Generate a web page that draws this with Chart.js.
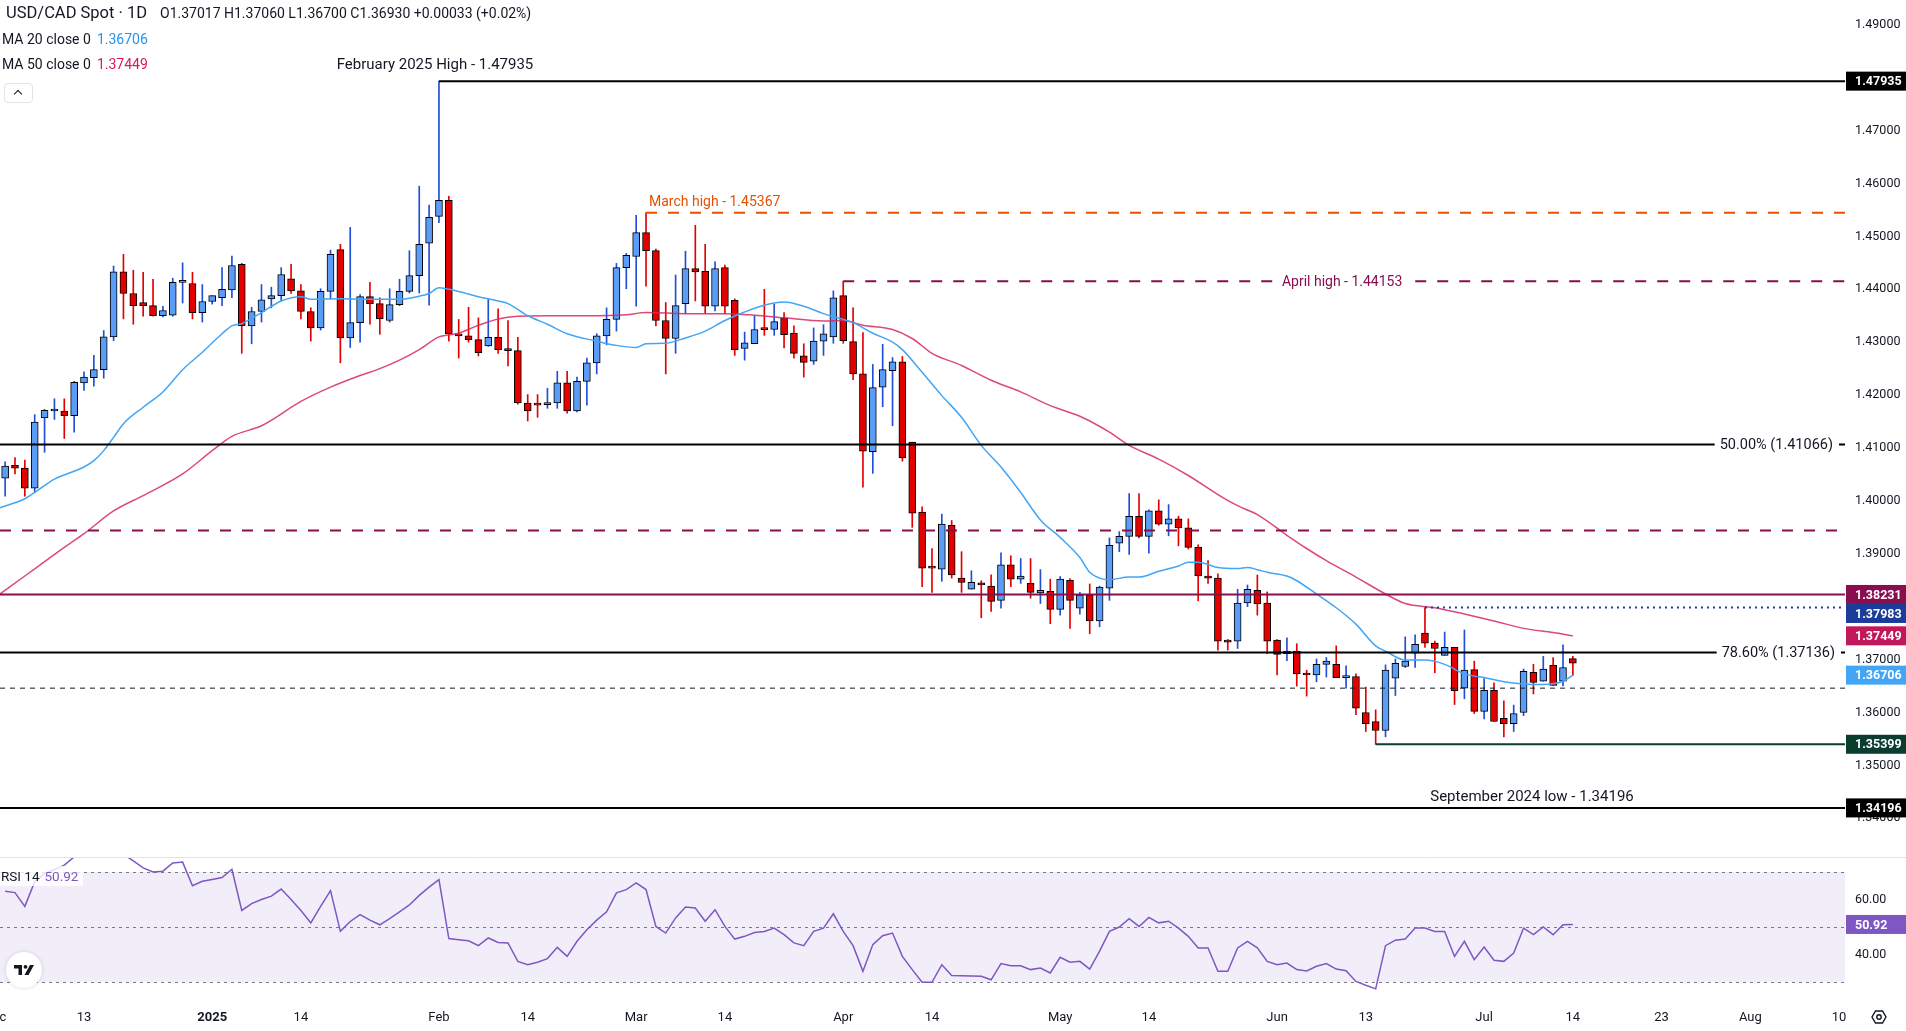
<!DOCTYPE html>
<html lang="en">
<head>
<meta charset="UTF-8">
<title>USD/CAD Spot · 1D</title>
<script src="https://cdn.jsdelivr.net/npm/chart.js"></script>
<style>
  html, body { margin: 0; padding: 0; background: #fff; overflow: hidden; }
  body { width: 1906px; height: 1031px; position: relative; font-family: Roboto, "Noto Sans", sans-serif; color: #131722; }
  canvas { position: absolute; left: 0; }
  #priceChart { top: 0; }
  #rsiChart { top: 857px; }
  .row { position: absolute; white-space: nowrap; }
  #title { left: 6px; top: 3px; line-height: 20px; font-size: 16.5px; }
  #ohlc { left: 160px; top: 3px; line-height: 20px; font-size: 14px; }
  #ma20 { left: 2px; top: 30px; line-height: 18px; font-size: 14px; }
  #ma50 { left: 2px; top: 55px; line-height: 18px; font-size: 14px; }
  #ma20 b, #ma50 b { font-weight: normal; margin-left: 6px; }
  #collapse { position: absolute; left: 4px; top: 83px; width: 27px; height: 18px; border: 1px solid #e0e3eb; border-radius: 4px; background: #fff; }
  #collapse i { position: absolute; left: 10px; top: 7px; width: 5px; height: 5px; border-left: 1.5px solid #131722; border-top: 1.5px solid #131722; transform: rotate(45deg); }
  #rsiLegend { left: 0; top: 866px; line-height: 20px; font-size: 13.5px; padding: 0 5px 0 1px; background: rgba(255,255,255,0.8); }
  #rsiLegend b { font-weight: normal; color: #7e57c2; margin-left: 5px; }
</style>
</head>
<body>
<canvas id="priceChart" width="1906" height="857"></canvas>
<canvas id="rsiChart" width="1906" height="174"></canvas>

<div class="row" id="title">USD/CAD Spot · 1D</div>
<div class="row" id="ohlc">O1.37017 H1.37060 L1.36700 C1.36930 +0.00033 (+0.02%)</div>
<div class="row" id="ma20">MA 20 close 0<b style="color:#2196f3">1.36706</b></div>
<div class="row" id="ma50">MA 50 close 0<b style="color:#d81b60">1.37449</b></div>
<div id="collapse"><i></i></div>
<div class="row" id="rsiLegend">RSI 14<b>50.92</b></div>

<script>
    const FONT = 'Roboto, "Noto Sans", sans-serif';
    const TEXT = '#131722';

    // bar index: 0 = Dec 13 2024, one step per trading day (calendar days after Jul 14)
    const FIRST_BAR = -8;

    const opens = [
        1.4043, 1.4067, 1.4062, 1.4024, 1.4157, 1.4170, 1.4170, 1.4161, 1.4223, 1.4233,
        1.4248, 1.4310, 1.4433, 1.4392, 1.4375, 1.4369, 1.4350, 1.4351, 1.4413, 1.4411,
        1.4356, 1.4377, 1.4384, 1.4399, 1.4447, 1.4331, 1.4358, 1.4382, 1.4388, 1.4420,
        1.4397, 1.4358, 1.4327, 1.4396, 1.4475, 1.4308, 1.4337, 1.4386, 1.4373, 1.4341,
        1.4371, 1.4396, 1.4426, 1.4487, 1.4538, 1.4568, 1.4316, 1.4312, 1.4305, 1.4293,
        1.4309, 1.4286, 1.4284, 1.4185, 1.4182, 1.4182, 1.4185, 1.4223, 1.4170, 1.4226,
        1.4261, 1.4312, 1.4343, 1.4441, 1.4462, 1.4507, 1.4473, 1.4341, 1.4307, 1.4373,
        1.4439, 1.4434, 1.4368, 1.4441, 1.4379, 1.4288, 1.4297, 1.4324, 1.4324, 1.4346,
        1.4317, 1.4274, 1.4264, 1.4302, 1.4310, 1.4388, 1.4301, 1.4240, 1.4093, 1.4215,
        1.4246, 1.4263, 1.4111, 1.3979, 1.3873, 1.3871, 1.3954, 1.3854, 1.3833, 1.3845,
        1.3839, 1.3812, 1.3879, 1.3852, 1.3844, 1.3826, 1.3829, 1.3795, 1.3850, 1.3797,
        1.3822, 1.3773, 1.3835, 1.3920, 1.3933, 1.3971, 1.3933, 1.3981, 1.3956, 1.3966,
        1.3949, 1.3912, 1.3858, 1.3854, 1.3737, 1.3735, 1.3807, 1.3831, 1.3807, 1.3737,
        1.3711, 1.3716, 1.3671, 1.3671, 1.3691, 1.3691, 1.3666, 1.3668, 1.3600, 1.3583,
        1.3566, 1.3665, 1.3687, 1.3712, 1.3750, 1.3731, 1.3708, 1.3723, 1.3646, 1.3681,
        1.3602, 1.3642, 1.3589, 1.3579, 1.3600, 1.3676, 1.3659, 1.3689, 1.3659, 1.37017
    ];
    const highs = [
        1.4074, 1.4082, 1.4077, 1.4163, 1.4173, 1.4193, 1.4193, 1.4226, 1.4244, 1.4275,
        1.4322, 1.4444, 1.4466, 1.4436, 1.4432, 1.4419, 1.4368, 1.4421, 1.4450, 1.4432,
        1.4409, 1.4388, 1.4441, 1.4463, 1.4449, 1.4366, 1.4409, 1.4404, 1.4441, 1.4447,
        1.4409, 1.4365, 1.4401, 1.4474, 1.4485, 1.4517, 1.4390, 1.4413, 1.4384, 1.4401,
        1.4419, 1.4473, 1.4595, 1.4559, 1.47935, 1.4576, 1.4343, 1.4366, 1.4346, 1.4381,
        1.4363, 1.4341, 1.4309, 1.4201, 1.4201, 1.4213, 1.4245, 1.4245, 1.4234, 1.4270,
        1.4316, 1.4365, 1.4449, 1.4468, 1.4540, 1.4545, 1.4476, 1.4375, 1.4427, 1.4472,
        1.4521, 1.4485, 1.4452, 1.4446, 1.4382, 1.4319, 1.4350, 1.4400, 1.4372, 1.4356,
        1.4331, 1.4297, 1.4327, 1.4333, 1.4397, 1.44153, 1.4365, 1.4318, 1.4258, 1.4296,
        1.4271, 1.4273, 1.4111, 1.3989, 1.3910, 1.3975, 1.3963, 1.3904, 1.3868, 1.3849,
        1.3860, 1.3902, 1.3896, 1.3891, 1.3891, 1.3870, 1.3852, 1.3857, 1.3853, 1.3827,
        1.3843, 1.3839, 1.3930, 1.3942, 1.4014, 1.4014, 1.3983, 1.4002, 1.3993, 1.3971,
        1.3966, 1.3917, 1.3887, 1.3862, 1.3738, 1.3833, 1.3841, 1.3860, 1.3828, 1.3738,
        1.3741, 1.3730, 1.3680, 1.3701, 1.3704, 1.3726, 1.3688, 1.3673, 1.3648, 1.3605,
        1.3690, 1.3701, 1.3743, 1.3747, 1.37983, 1.3735, 1.3752, 1.3723, 1.3756, 1.3697,
        1.3664, 1.3656, 1.3622, 1.3614, 1.3682, 1.3691, 1.3706, 1.3704, 1.3728, 1.37060
    ];
    const lows = [
        1.4009, 1.4051, 1.4009, 1.4016, 1.4092, 1.4154, 1.4118, 1.4130, 1.4209, 1.4217,
        1.4232, 1.4303, 1.4344, 1.4334, 1.4349, 1.4349, 1.4348, 1.4349, 1.4374, 1.4344,
        1.4338, 1.4372, 1.4369, 1.4384, 1.4279, 1.4297, 1.4338, 1.4365, 1.4378, 1.4392,
        1.4344, 1.4302, 1.4323, 1.4382, 1.4261, 1.4290, 1.4300, 1.4334, 1.4315, 1.4338,
        1.4369, 1.4393, 1.4393, 1.4370, 1.4526, 1.4302, 1.4270, 1.4300, 1.4274, 1.4292,
        1.4279, 1.4255, 1.4183, 1.4151, 1.4158, 1.4175, 1.4175, 1.4166, 1.4168, 1.4181,
        1.4240, 1.4295, 1.4321, 1.4401, 1.4368, 1.4406, 1.4331, 1.4240, 1.4279, 1.4354,
        1.4378, 1.4354, 1.4359, 1.4354, 1.4275, 1.4266, 1.4297, 1.4313, 1.4313, 1.4289,
        1.4270, 1.4234, 1.4258, 1.4275, 1.4298, 1.4298, 1.4229, 1.4026, 1.4052, 1.4178,
        1.4142, 1.4075, 1.3950, 1.3838, 1.3827, 1.3848, 1.3854, 1.3827, 1.3833, 1.3779,
        1.3791, 1.3797, 1.3838, 1.3844, 1.3816, 1.3806, 1.3768, 1.3784, 1.3759, 1.3786,
        1.3749, 1.3762, 1.3812, 1.3904, 1.3899, 1.3930, 1.3901, 1.3954, 1.3934, 1.3915,
        1.3909, 1.3811, 1.3844, 1.3718, 1.3718, 1.3721, 1.3800, 1.3784, 1.3711, 1.3671,
        1.3698, 1.3650, 1.3631, 1.3658, 1.3667, 1.3666, 1.3646, 1.3596, 1.3564, 1.35399,
        1.3554, 1.3632, 1.3685, 1.3685, 1.3723, 1.3675, 1.3708, 1.3615, 1.3626, 1.3598,
        1.3588, 1.3583, 1.3554, 1.3564, 1.3594, 1.3635, 1.3659, 1.3651, 1.3650, 1.36700
    ];
    const closes = [
        1.4066, 1.4062, 1.4024, 1.4149, 1.4171, 1.4170, 1.4161, 1.4224, 1.4234, 1.4248,
        1.4310, 1.4433, 1.4392, 1.4369, 1.4369, 1.4350, 1.4360, 1.4413, 1.4417, 1.4356,
        1.4377, 1.4388, 1.4400, 1.4445, 1.4331, 1.4358, 1.4380, 1.4388, 1.4428, 1.4397,
        1.4358, 1.4327, 1.4396, 1.4466, 1.4308, 1.4337, 1.4386, 1.4373, 1.4344, 1.4371,
        1.4396, 1.4426, 1.4485, 1.4536, 1.4568, 1.4316, 1.4312, 1.4305, 1.4280, 1.4309,
        1.4286, 1.4284, 1.4185, 1.4170, 1.4181, 1.4186, 1.4223, 1.4170, 1.4226, 1.4261,
        1.4312, 1.4343, 1.4441, 1.4464, 1.4507, 1.4473, 1.4341, 1.4307, 1.4369, 1.4439,
        1.4433, 1.4368, 1.4439, 1.4368, 1.4286, 1.4299, 1.4324, 1.43238, 1.4339, 1.4314,
        1.4279, 1.4262, 1.4302, 1.4316, 1.4384, 1.4303, 1.4240, 1.4094, 1.4214, 1.4248,
        1.4263, 1.4081, 1.3977, 1.3873, 1.38728, 1.3956, 1.3860, 1.3846, 1.3846, 1.3841,
        1.3810, 1.3879, 1.3852, 1.3858, 1.3827, 1.3831, 1.3795, 1.3852, 1.3812, 1.3822,
        1.3773, 1.3837, 1.3916, 1.3933, 1.3971, 1.3933, 1.3981, 1.3956, 1.3966, 1.3949,
        1.3912, 1.3858, 1.3854, 1.3735, 1.3733, 1.3807, 1.3833, 1.3805, 1.3735, 1.3710,
        1.3716, 1.3673, 1.36708, 1.3691, 1.3697, 1.3666, 1.3666, 1.3608, 1.3579, 1.3566,
        1.3680, 1.3693, 1.3697, 1.3729, 1.3731, 1.3721, 1.3723, 1.3641, 1.3680, 1.3602,
        1.3642, 1.3583, 1.3579, 1.3598, 1.3678, 1.3657, 1.3682, 1.3651, 1.3685, 1.36930
    ];

    const rsiValues = [
        63, 62.5, 57.5, 66.5, 69.5, 70.8, 72.5, 75.5, 78, 79,
        81, 84, 76.5, 74, 71.5, 70, 70.3, 73.3, 73.6, 65,
        66.6, 67.3, 68, 71, 56, 58.5, 60, 61.2, 63.8, 60,
        56, 51.5, 57.5, 63.2, 48.4, 52, 54.5, 52.5, 50.8, 53,
        55.5, 58, 61.5, 64.5, 67.2, 45.8, 45.4, 45, 43.2, 46,
        44.4, 44.2, 37.5, 36.3, 37.2, 38.5, 42.6, 39.3, 44.8, 49,
        52.5, 55.5, 62.4, 63.6, 66, 63.6, 50.2, 47.8, 53.3, 57.3,
        56.9, 52.1, 56.3, 50.2, 45.6, 46.6, 48, 48.4, 49.6, 47.2,
        44.2, 43.2, 48.4, 49.6, 54.8, 48.4, 43.2, 33.9, 43.6, 46.8,
        47.8, 39.3, 34.5, 29.9, 29.9, 36.3, 32.4, 32.3, 32.2, 32.1,
        30.8, 36.7, 35.9, 35.9, 34.5, 35.1, 33.3, 39, 37.2, 37.5,
        34.7, 41.2, 48.4, 50, 53, 50.2, 53.5, 51.5, 52.1, 49.6,
        46.6, 42.4, 42.4, 33.9, 33.9, 42.4, 44.8, 42.4, 37.5, 36.3,
        36.9, 34.5, 34, 35.7, 36.7, 34.7, 34.1, 30.2, 28.8, 27.5,
        43.2, 45.2, 45.6, 49.6, 49.6, 48.4, 48.4, 39.3, 44.8, 38.1,
        42.7, 37.9, 37.5, 40.5, 49.6, 47.2, 50, 47.2, 50.8, 50.92
    ];

    // moving averages at these bar positions
    const ma20Bars = [-8.52, -6, -5, -3, 0, 1, 2, 3, 4, 6, 8, 10, 12, 14, 15, 16, 18, 20, 22, 23,
        26, 29, 32, 34, 35, 36, 38, 40, 42, 43, 45, 47, 49, 52, 54, 56, 57, 59, 61, 63,
        65, 67, 69, 71, 73, 75, 77, 78, 80, 82, 83, 85, 87, 89, 91, 93, 95, 97, 99, 101,
        102, 103, 104, 106, 107, 109, 111, 112, 113, 115, 117, 118, 119, 120, 122, 123, 125, 127, 129, 131,
        132, 134, 136, 138, 140, 142, 144, 146, 148, 150, 151];
    const ma20Values = [1.3987, 1.4004, 1.4016, 1.4041, 1.4064, 1.4076, 1.4095, 1.4120, 1.4146, 1.4177,
        1.4206, 1.4248, 1.4281, 1.4316, 1.4331, 1.4335, 1.4356, 1.4378, 1.4386, 1.4381,
        1.4382, 1.4381, 1.4381, 1.4387, 1.4392, 1.4403, 1.4396, 1.4386, 1.4378, 1.4373,
        1.4350, 1.4334, 1.4316, 1.4302, 1.4294, 1.4290, 1.4297, 1.4298, 1.4308, 1.4321,
        1.4341, 1.4357, 1.4370, 1.4376, 1.4368, 1.4354, 1.4343, 1.4337, 1.4317, 1.4300,
        1.4286, 1.4243, 1.4199, 1.4158, 1.4105, 1.4064, 1.4016, 1.3964, 1.3931, 1.3893,
        1.3865, 1.3854, 1.3851, 1.3856, 1.3856, 1.3867, 1.3877, 1.3884, 1.3884, 1.3874,
        1.3872, 1.3874, 1.3870, 1.3865, 1.3858, 1.3849, 1.3824, 1.3798, 1.3767, 1.3726,
        1.3716, 1.3699, 1.3699, 1.3691, 1.3673, 1.3666, 1.3658, 1.3654, 1.3653, 1.3659, 1.36706];

    const ma50Bars = [-8.52, -6, -4, -2, 0, 3, 6, 10, 13, 15, 18, 22, 25, 28, 30, 32, 34, 36, 38, 40,
        42, 44, 47, 51, 55, 57, 61, 65, 68, 71, 75, 77, 79, 82, 84, 86, 89, 92, 95, 98,
        101, 104, 106, 109, 112, 115, 117, 119, 122, 124, 126, 129, 132, 134, 137, 140, 143, 146, 149, 151];
    const ma50Values = [1.3824, 1.3858, 1.3885, 1.3912, 1.3938, 1.3981, 1.4010, 1.4051, 1.4095, 1.4122,
        1.4142, 1.4188, 1.4215, 1.4237, 1.4250, 1.4266, 1.4286, 1.4310, 1.4317, 1.4332,
        1.4344, 1.4349, 1.4350, 1.4350, 1.4352, 1.4356, 1.4354, 1.4354, 1.4351, 1.4346,
        1.4340, 1.4341, 1.4332, 1.4324, 1.4307, 1.4279, 1.4256, 1.4228, 1.4206, 1.4180,
        1.4160, 1.4130, 1.4105, 1.4079, 1.4048, 1.4012, 1.3991, 1.3974, 1.3935, 1.3910,
        1.3887, 1.3856, 1.3824, 1.3806, 1.3798, 1.3786, 1.3773, 1.3759, 1.3751, 1.37449];

    // horizontal levels drawn on the chart (null start = from the left edge)
    const levelPrices = [1.47935, 1.45445, 1.44153, 1.41066, 1.39440, 1.38231, 1.37983, 1.37136, 1.36460, 1.35399, 1.34196];
    const levelStart  = [36, 57, 77, null, null, null, 136, null, null, 131, null];

    const noteTexts  = ['February 2025 High - 1.47935', 'March high - 1.45367', 'April high - 1.44153',
                        '50.00% (1.41066)', '78.60% (1.37136)', 'September 2024 low - 1.34196'];
    const noteLevel  = [0, 1, 2, 3, 7, 10];   // which level each note belongs to

    const axisBoxPrices = [1.47935, 1.38231, 1.37983, 1.37449, 1.36706, 1.35399, 1.34196];
    const priceTicks = [1.34, 1.35, 1.36, 1.37, 1.38, 1.39, 1.40, 1.41, 1.42, 1.43, 1.44, 1.45, 1.46, 1.47, 1.48, 1.49];
    const rsiTicks = [40, 60];
    const rsiLevels = [70, 50, 30];
    const rsiLast = 50.92;

    const timeTickBars   = [-9, 0, 13, 22, 36, 45, 56, 65, 77, 86, 99, 108, 121, 130, 142, 151, 160, 169, 178];
    const timeTickLabels = ['Dec', '13', '2025', '14', 'Feb', '14', 'Mar', '14', 'Apr', '14', 'May', '14', 'Jun', '13', 'Jul', '14', '23', 'Aug', '10'];

    // ---- styles ----
    const X_MIN = -8.52, X_MAX = 178.6;
    const PRICE_MIN = 1.33268, PRICE_MAX = 1.49469;
    const RSI_MIN = 22.36, RSI_MAX = 75.45;
    const AXIS_W = 61;

    const UP_BODY = '#5b9cf6', UP_WICK = '#1f4fd6', DOWN = '#e50000';
    const levelStyle = [
        { color: '#000000', width: 2 },
        { color: '#e65100', width: 2, dash: [11, 11] },
        { color: '#880e4f', width: 2, dash: [11, 11] },
        { color: '#000000', width: 2 },
        { color: '#880e4f', width: 2, dash: [11, 11] },
        { color: '#880e4f', width: 2 },
        { color: '#1a3d9c', width: 2, dash: [2, 4] },
        { color: '#000000', width: 2 },
        { color: '#131722', width: 1, dash: [5, 5] },
        { color: '#0a3d2e', width: 2 },
        { color: '#000000', width: 2 }
    ];
    const noteStyle = [
        { size: 15, color: TEXT, align: 'center', anchor: 'start', dx: -4, dy: -17 },
        { size: 14, color: '#e65100', align: 'left', anchor: 'start', dx: 3, dy: -11 },
        { size: 14, color: '#880e4f', align: 'center', anchor: 'mid', dx: -2, dy: 0, bg: true },
        { size: 14.5, color: TEXT, align: 'right', anchor: 'right', dx: -12, dy: 0, bg: true },
        { size: 14.5, color: TEXT, align: 'right', anchor: 'right', dx: -10, dy: 0, bg: true },
        { size: 15, color: TEXT, align: 'center', anchor: 'right', dx: -313, dy: -12 }
    ];
    const axisBoxColors = ['#000000', '#880e4f', '#1a3d9c', '#c2185b', '#42a5f5', '#0a3d2e', '#000000'];

    const bars = opens.map((_, i) => FIRST_BAR + i);
    const isUp = closes.map((c, i) => c >= opens[i]);

    // ---- price pane ----
    const levelDatasets = levelPrices.map((p, i) => ({
        type: 'line',
        data: [{ x: levelStart[i] === null ? X_MIN : levelStart[i], y: p }, { x: X_MAX, y: p }],
        borderColor: levelStyle[i].color,
        borderWidth: levelStyle[i].width,
        borderDash: levelStyle[i].dash || [],
        pointRadius: 0,
        order: 1
    }));

    const notesPlugin = {
        id: 'notes',
        afterDatasetsDraw(chart) {
            const { ctx, chartArea, scales } = chart;
            ctx.save();
            ctx.textBaseline = 'middle';
            noteTexts.forEach((text, i) => {
                const st = noteStyle[i];
                const li = noteLevel[i];
                const startPx = scales.x.getPixelForValue(levelStart[li] === null ? X_MIN : levelStart[li]);
                let x = chartArea.right;
                if (st.anchor === 'start') x = startPx;
                if (st.anchor === 'mid') x = (startPx + chartArea.right) / 2;
                x += st.dx;
                const y = scales.y.getPixelForValue(levelPrices[li]) + st.dy;
                ctx.font = `${st.size}px ${FONT}`;
                const w = ctx.measureText(text).width;
                if (st.bg) {
                    const left = st.align === 'right' ? x - w : (st.align === 'center' ? x - w / 2 : x);
                    ctx.fillStyle = '#fff';
                    ctx.fillRect(left - 5, y - 9, w + 11, 18);
                }
                ctx.fillStyle = st.color;
                ctx.textAlign = st.align;
                ctx.fillText(text, x, y + 1);
            });
            ctx.restore();
        }
    };

    const axisBoxPlugin = {
        id: 'axisBoxes',
        afterDraw(chart) {
            const { ctx, chartArea } = chart;
            const ys = chart.scales.y;
            const H = 19;
            const items = axisBoxPrices.map((p, i) => ({ p, color: axisBoxColors[i], py: ys.getPixelForValue(p) }))
                .sort((a, b) => a.py - b.py);
            for (let i = 1; i < items.length; i++) {
                if (items[i].py < items[i - 1].py + H) items[i].py = items[i - 1].py + H;
            }
            ctx.save();
            ctx.font = `bold 12.5px ${FONT}`;
            ctx.textBaseline = 'middle';
            ctx.textAlign = 'left';
            items.forEach(it => {
                ctx.fillStyle = it.color;
                ctx.fillRect(chartArea.right + 1, it.py - H / 2, chart.width - chartArea.right - 1, H);
                ctx.fillStyle = '#fff';
                ctx.fillText(it.p.toFixed(5), chartArea.right + 10, it.py + 1);
            });
            ctx.restore();
        }
    };

    new Chart(document.getElementById('priceChart'), {
        type: 'bar',
        data: {
            datasets: [
                {
                    label: 'wicks',
                    data: bars.map((x, i) => ({ x, y: [lows[i], highs[i]] })),
                    backgroundColor: ctx => isUp[ctx.dataIndex] ? UP_WICK : DOWN,
                    borderWidth: 0,
                    barThickness: 1,
                    grouped: false,
                    order: 5
                },
                {
                    label: 'bodies',
                    data: bars.map((x, i) => ({ x, y: [opens[i], closes[i]] })),
                    backgroundColor: ctx => isUp[ctx.dataIndex] ? UP_BODY : DOWN,
                    borderColor: '#000',
                    borderWidth: 1,
                    borderSkipped: false,
                    barThickness: 7,
                    minBarLength: 2,
                    grouped: false,
                    order: 4
                },
                {
                    type: 'line',
                    label: 'MA 50',
                    data: ma50Bars.map((x, i) => ({ x, y: ma50Values[i] })),
                    borderColor: 'rgba(214,40,100,0.85)',
                    borderWidth: 1.5,
                    pointRadius: 0,
                    cubicInterpolationMode: 'monotone',
                    order: 3
                },
                {
                    type: 'line',
                    label: 'MA 20',
                    data: ma20Bars.map((x, i) => ({ x, y: ma20Values[i] })),
                    borderColor: '#42a5f5',
                    borderWidth: 1.5,
                    pointRadius: 0,
                    cubicInterpolationMode: 'monotone',
                    order: 2
                },
                ...levelDatasets
            ]
        },
        options: {
            responsive: false,
            animation: false,
            devicePixelRatio: 1,
            events: [],
            layout: { padding: 0 },
            plugins: { legend: { display: false }, tooltip: { enabled: false } },
            scales: {
                x: { type: 'linear', min: X_MIN, max: X_MAX, offset: false, display: false },
                y: {
                    position: 'right',
                    min: PRICE_MIN,
                    max: PRICE_MAX,
                    grid: { display: false, drawTicks: false },
                    border: { display: false },
                    ticks: {
                        padding: 10,
                        color: TEXT,
                        font: { family: FONT, size: 12.5 },
                        callback: v => v.toFixed(5)
                    },
                    afterBuildTicks: s => { s.ticks = priceTicks.map(v => ({ value: v })); },
                    afterFit: s => { s.width = AXIS_W; s.paddingTop = 0; s.paddingBottom = 0; }
                }
            }
        },
        plugins: [notesPlugin, axisBoxPlugin]
    });

    // ---- RSI pane ----
    const rsiPanePlugin = {
        id: 'rsiPane',
        beforeDatasetsDraw(chart) {
            const { ctx, chartArea, scales } = chart;
            const y70 = scales.y.getPixelForValue(rsiLevels[0]);
            const y30 = scales.y.getPixelForValue(rsiLevels[2]);
            ctx.save();
            ctx.fillStyle = 'rgba(126,87,194,0.1)';
            ctx.fillRect(chartArea.left, y70, chartArea.right - chartArea.left, y30 - y70);
            ctx.strokeStyle = '#787b86';
            ctx.lineWidth = 1;
            ctx.setLineDash([3, 4]);
            rsiLevels.forEach(v => {
                const y = Math.round(scales.y.getPixelForValue(v)) + 0.5;
                ctx.beginPath();
                ctx.moveTo(chartArea.left, y);
                ctx.lineTo(chartArea.right, y);
                ctx.stroke();
            });
            ctx.restore();
        },
        afterDraw(chart) {
            const { ctx, chartArea, scales } = chart;
            ctx.save();
            // pane separator
            ctx.strokeStyle = '#e0e3eb';
            ctx.lineWidth = 1;
            ctx.beginPath();
            ctx.moveTo(0, 0.5);
            ctx.lineTo(chart.width, 0.5);
            ctx.stroke();
            // last value box
            const y = scales.y.getPixelForValue(rsiLast);
            ctx.fillStyle = '#7e57c2';
            ctx.fillRect(chartArea.right + 1, y - 9.5, chart.width - chartArea.right - 1, 19);
            ctx.fillStyle = '#fff';
            ctx.font = `bold 12.5px ${FONT}`;
            ctx.textBaseline = 'middle';
            ctx.fillText(rsiLast.toFixed(2), chartArea.right + 10, y + 1);
            // logo badge
            const cx = 24, cy = 113;
            ctx.shadowColor = 'rgba(0,0,0,0.15)';
            ctx.shadowBlur = 4;
            ctx.fillStyle = '#fff';
            ctx.beginPath();
            ctx.arc(cx, cy, 18, 0, Math.PI * 2);
            ctx.fill();
            ctx.shadowBlur = 0;
            ctx.fillStyle = '#131722';
            ctx.fillRect(cx - 10, cy - 5, 8, 3.5);
            ctx.fillRect(cx - 5.5, cy - 5, 3.5, 10);
            ctx.beginPath();
            ctx.arc(cx + 1.5, cy - 3.2, 1.9, 0, Math.PI * 2);
            ctx.fill();
            ctx.beginPath();
            ctx.moveTo(cx + 0.5, cy + 5);
            ctx.lineTo(cx + 4.5, cy + 5);
            ctx.lineTo(cx + 10, cy - 5);
            ctx.lineTo(cx + 6, cy - 5);
            ctx.closePath();
            ctx.fill();
            // settings icon (hexagon with a hole)
            ctx.strokeStyle = '#131722';
            ctx.lineWidth = 1.4;
            ctx.beginPath();
            for (let k = 0; k < 6; k++) {
                const a = Math.PI / 3 * k;
                const px = 1879 + 7 * Math.cos(a), py = 160 + 7 * Math.sin(a);
                if (k === 0) ctx.moveTo(px, py); else ctx.lineTo(px, py);
            }
            ctx.closePath();
            ctx.stroke();
            ctx.beginPath();
            ctx.arc(1879, 160, 2.2, 0, Math.PI * 2);
            ctx.stroke();
            ctx.restore();
        }
    };

    new Chart(document.getElementById('rsiChart'), {
        type: 'line',
        data: {
            datasets: [{
                label: 'RSI 14',
                data: bars.map((x, i) => ({ x, y: rsiValues[i] })),
                borderColor: '#7e57c2',
                borderWidth: 1.5,
                pointRadius: 0,
                tension: 0
            }]
        },
        options: {
            responsive: false,
            animation: false,
            devicePixelRatio: 1,
            events: [],
            layout: { padding: 0 },
            plugins: { legend: { display: false }, tooltip: { enabled: false } },
            scales: {
                x: {
                    type: 'linear',
                    min: X_MIN,
                    max: X_MAX,
                    offset: false,
                    grid: { display: false, drawTicks: false },
                    border: { display: false },
                    ticks: {
                        autoSkip: false,
                        maxRotation: 0,
                        padding: 7,
                        color: TEXT,
                        font: ctx => ({ family: FONT, size: 13, weight: (ctx.tick && ctx.tick.value === 13) ? 'bold' : 'normal' }),
                        callback: v => timeTickLabels[timeTickBars.indexOf(v)]
                    },
                    afterBuildTicks: s => { s.ticks = timeTickBars.map(v => ({ value: v })); },
                    afterFit: s => { s.height = 28; s.paddingLeft = 0; s.paddingRight = 0; }
                },
                y: {
                    position: 'right',
                    min: RSI_MIN,
                    max: RSI_MAX,
                    grid: { display: false, drawTicks: false },
                    border: { display: false },
                    ticks: {
                        padding: 10,
                        color: TEXT,
                        font: { family: FONT, size: 12.5 },
                        callback: v => v.toFixed(2)
                    },
                    afterBuildTicks: s => { s.ticks = rsiTicks.map(v => ({ value: v })); },
                    afterFit: s => { s.width = AXIS_W; s.paddingTop = 0; s.paddingBottom = 0; }
                }
            }
        },
        plugins: [rsiPanePlugin]
    });
</script>
</body>
</html>
